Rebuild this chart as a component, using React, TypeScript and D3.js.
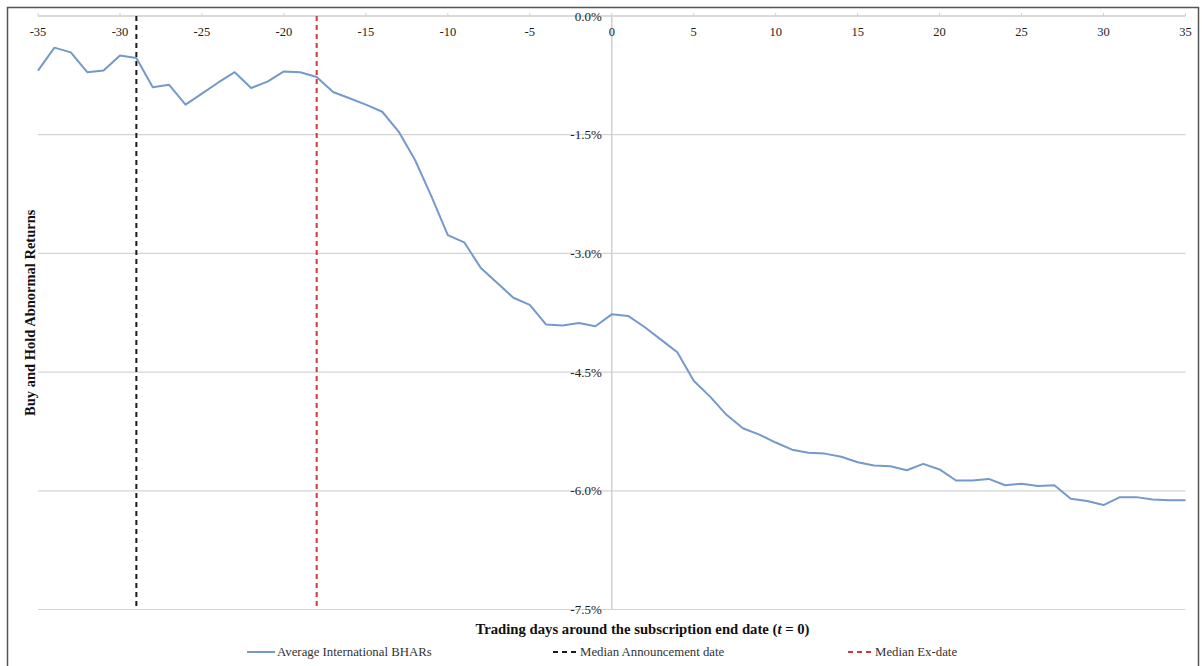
import { useMemo } from 'react';

import { line, range, scaleLinear } from 'd3';

// trading days relative to subscription end date
const days = range(-35, 36);

// average international BHARs, in percent
const bhar = [
  -0.69, -0.4, -0.46, -0.71, -0.69, -0.5, -0.53, -0.9, -0.87, -1.12, -0.98,
  -0.84, -0.71, -0.91, -0.83, -0.7, -0.71, -0.77, -0.96, -1.04, -1.12, -1.21,
  -1.46, -1.82, -2.28, -2.77, -2.86, -3.18, -3.37, -3.56, -3.65, -3.9, -3.91,
  -3.88, -3.92, -3.77, -3.79, -3.93, -4.09, -4.25, -4.61, -4.81, -5.04, -5.21,
  -5.29, -5.39, -5.48, -5.52, -5.53, -5.57, -5.64, -5.68, -5.69, -5.74, -5.66,
  -5.73, -5.87, -5.87, -5.85, -5.93, -5.91, -5.94, -5.93, -6.1, -6.13, -6.18,
  -6.08, -6.08, -6.11, -6.12, -6.12,
];

const xTicks = [-35, -30, -25, -20, -15, -10, -5, 0, 5, 10, 15, 20, 25, 30, 35];
const yTicks = [0, -1.5, -3, -4.5, -6, -7.5];

const announcementDay = -29;
const exDay = -18;

const legendLabels = [
  'Average International BHARs',
  'Median Announcement date',
  'Median Ex-date',
];

const W = 1202,
  H = 666;
const plot = { left: 38, right: 1185.5, top: 16, bottom: 609.5 };
const font = '"Liberation Serif", "Times New Roman", serif';
const blue = '#7499cb';

export default function App() {
  const x = useMemo(
    () => scaleLinear().domain([-35, 35]).range([plot.left, plot.right]),
    []
  );
  const y = useMemo(
    () => scaleLinear().domain([0, -7.5]).range([plot.top, plot.bottom]),
    []
  );

  const path = line<number>()
    .x((_, i) => x(days[i]))
    .y((d) => y(d))(bhar);

  return (
    <svg
      width={W}
      height={H}
      style={{ position: 'absolute', left: 0, top: 0, background: '#fff' }}
      fontFamily={font}
    >
      <rect x={7.5} y={7.5} width={1191} height={680} fill="none" stroke="#555" strokeWidth={1.5} />

      {/* gridlines */}
      <g className="grid">
        {yTicks.map((t) => (
          <line
            key={t}
            x1={plot.left}
            x2={plot.right}
            y1={y(t)}
            y2={y(t)}
            stroke="#d4d4d4"
            strokeWidth={1.2}
          />
        ))}
      </g>

      {/* y axis at t = 0 */}
      <line x1={x(0)} x2={x(0)} y1={plot.top} y2={plot.bottom} stroke="#cfcfcf" strokeWidth={1.5} />

      {/* x axis along the top */}
      <g className="x-axis">
        <line x1={plot.left} x2={plot.right} y1={plot.top} y2={plot.top} stroke="#d4d4d4" strokeWidth={1.5} />
        {xTicks.map((t) => (
          <g key={t} transform={`translate(${x(t)},0)`}>
            <line y1={plot.top - 3} y2={plot.top} stroke="#cfcfcf" />
            <text y={36} textAnchor="middle" fontSize={12.5} fill="#222">
              {t}
            </text>
          </g>
        ))}
      </g>

      {/* y tick labels */}
      <g className="y-axis">
        {yTicks.map((t) => (
          <text
            key={t}
            x={x(0) - 10}
            y={y(t)}
            dy="0.35em"
            textAnchor="end"
            fontSize={13}
            fill="#222"
          >
            {t.toFixed(1) + '%'}
          </text>
        ))}
      </g>

      {/* event lines */}
      <line
        x1={x(announcementDay)}
        x2={x(announcementDay)}
        y1={plot.top}
        y2={plot.bottom}
        stroke="#1a1a1a"
        strokeWidth={2}
        strokeDasharray="5,4"
      />
      <line
        x1={x(exDay)}
        x2={x(exDay)}
        y1={plot.top}
        y2={plot.bottom}
        stroke="#d0393b"
        strokeWidth={2}
        strokeDasharray="5,4"
      />

      <path d={path ?? ''} fill="none" stroke={blue} strokeWidth={2} strokeLinejoin="round" />

      {/* axis titles */}
      <text x={642.5} y={634} textAnchor="middle" fontSize={14.7} fontWeight="bold" fill="#111">
        Trading days around the subscription end date (<tspan fontStyle="italic">t</tspan> = 0)
      </text>
      <text
        transform={`translate(35,${(plot.top + plot.bottom) / 2}) rotate(-90)`}
        textAnchor="middle"
        fontSize={14.5}
        fontWeight="bold"
        fill="#111"
      >
        Buy and Hold Abnormal Returns
      </text>

      {/* legend */}
      <g className="legend" fontSize={12.8} fill="#333">
        <line x1={247} x2={275} y1={652} y2={652} stroke={blue} strokeWidth={2} />
        <text x={277} y={652} dy="0.35em">
          {legendLabels[0]}
        </text>
        <line x1={553} x2={578} y1={652} y2={652} stroke="#1a1a1a" strokeWidth={2} strokeDasharray="5,4" />
        <text x={580} y={652} dy="0.35em">
          {legendLabels[1]}
        </text>
        <line x1={848} x2={873} y1={652} y2={652} stroke="#d0393b" strokeWidth={2} strokeDasharray="5,4" />
        <text x={875} y={652} dy="0.35em">
          {legendLabels[2]}
        </text>
      </g>
    </svg>
  );
}
